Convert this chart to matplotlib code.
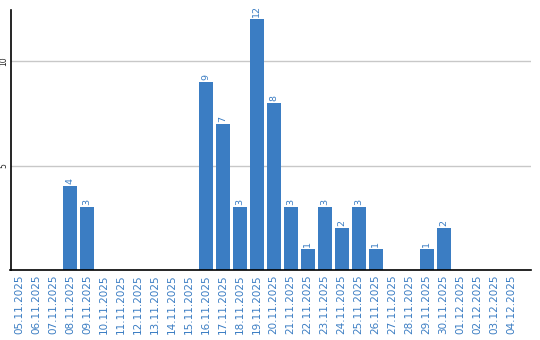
import matplotlib
matplotlib.use("Agg")
import matplotlib.pyplot as plt

dates = ["05.11.2025", "06.11.2025", "07.11.2025", "08.11.2025", "09.11.2025",
         "10.11.2025", "11.11.2025", "12.11.2025", "13.11.2025", "14.11.2025",
         "15.11.2025", "16.11.2025", "17.11.2025", "18.11.2025", "19.11.2025",
         "20.11.2025", "21.11.2025", "22.11.2025", "23.11.2025", "24.11.2025",
         "25.11.2025", "26.11.2025", "27.11.2025", "28.11.2025", "29.11.2025",
         "30.11.2025", "01.12.2025", "02.12.2025", "03.12.2025", "04.12.2025"]
counts = [0, 0, 0, 4, 3, 0, 0, 0, 0, 0, 0, 9, 7, 3, 12, 8, 3, 1, 3, 2, 3, 1,
          0, 0, 1, 2, 0, 0, 0, 0]
y_ticks = [5, 10]

blue = "#3b7dc3"

fig = plt.figure(figsize=(5.4, 3.4), dpi=100)
ax = fig.add_axes([10.5 / 540, 70 / 340, 520.5 / 540, 260 / 340])

x = list(range(len(dates)))
ax.bar(x, counts, width=0.82, color=blue, zorder=2)

for xi, c in zip(x, counts):
    if c > 0:
        ax.text(xi, c + 0.1, str(c), rotation=90, ha="center", va="bottom",
                fontsize=6.8, color=blue)

ax.set_xlim(-0.5, 30.15)
ax.set_ylim(0, 12.45)
ax.set_xticks(x)
ax.set_xticklabels(dates, rotation=90, fontsize=7.5, color=blue)
ax.set_yticks(y_ticks)
ax.set_yticklabels([str(t) for t in y_ticks], rotation=90, fontsize=5.5,
                   va="center", color="#222222")
ax.tick_params(length=0, pad=3)
ax.tick_params(axis="y", pad=1.5)
ax.grid(axis="y", color="#c8c8c8", linewidth=1, zorder=0)

for s in ["top", "right"]:
    ax.spines[s].set_visible(False)
ax.spines["left"].set_linewidth(1.2)
ax.spines["bottom"].set_linewidth(1.2)

fig.savefig("out.png", dpi=100)
